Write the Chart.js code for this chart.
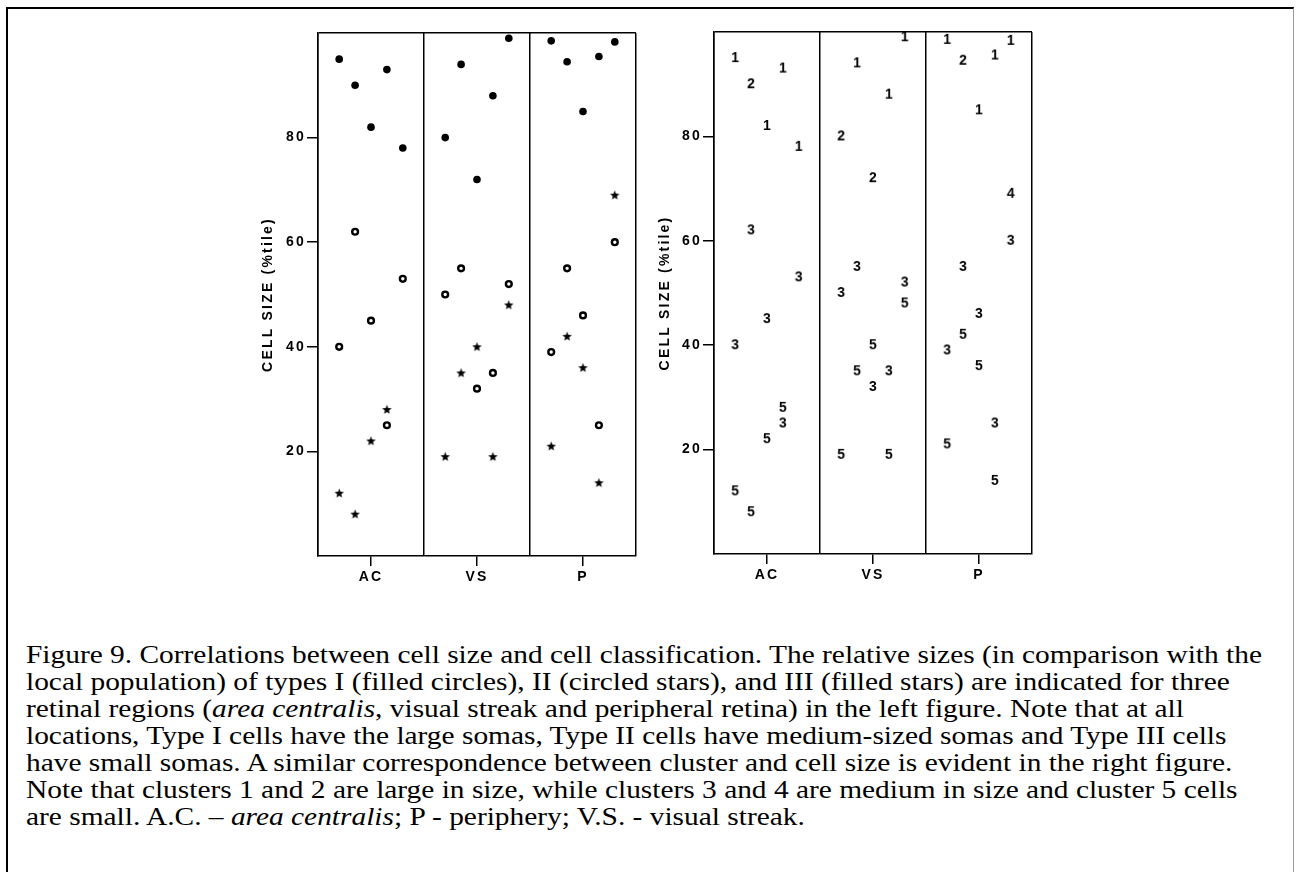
<!DOCTYPE html>
<html>
<head>
<meta charset="utf-8">
<script src="https://cdn.jsdelivr.net/npm/chart.js@4.4.1/dist/chart.umd.min.js"></script>
<style>
  html, body { margin: 0; padding: 0; background: #fff; }
  body { width: 1296px; height: 872px; position: relative; overflow: hidden; }
  #frame {
    position: absolute; left: 6px; top: 7px; width: 1285px; height: 900px;
    border-left: 2px solid #000; border-top: 2px solid #000; border-right: 1px solid #999;
  }
  canvas { position: absolute; top: 0; }
  #left { left: 240px; }
  #right { left: 640px; }
  #caption {
    position: absolute; left: 26px; top: 641px;
    font-family: "Liberation Serif", "Times New Roman", serif;
    font-size: 26px; line-height: 27px; white-space: nowrap; color: #000;
    transform-origin: 0 0;
  }
  #caption div { display: table; }
</style>
</head>
<body>
<div id="frame"></div>
<canvas id="left" width="420" height="600"></canvas>
<canvas id="right" width="420" height="600"></canvas>
<div id="caption">
<div>Figure 9. Correlations between cell size and cell classification. The relative sizes (in comparison with the</div>
<div>local population) of types I (filled circles), II (circled stars), and III (filled stars) are indicated for three</div>
<div>retinal regions (<i>area centralis</i>, visual streak and peripheral retina) in the left figure. Note that at all</div>
<div>locations, Type I cells have the large somas, Type II cells have medium-sized somas and Type III cells</div>
<div>have small somas. A similar correspondence between cluster and cell size is evident in the right figure.</div>
<div>Note that clusters 1 and 2 are large in size, while clusters 3 and 4 are medium in size and cluster 5 cells</div>
<div>are small. A.C. – <i>area centralis</i>; P - periphery; V.S. - visual streak.</div>
</div>
<script>
// regions sit at 0.5, 1.5, 2.5 on the x scale, each panel is one unit wide
const regions = ['AC', 'VS', 'P'];
const yTicks = [20, 40, 60, 80];

// type I cells (filled circles)
const typeIX = [0.2, 0.35, 0.65, 0.5, 0.8, 1.8, 1.35, 1.65, 1.2, 1.5, 2.2, 2.35, 2.65, 2.8, 2.5];
const typeIY = [95, 90, 93, 82, 78, 99, 94, 88, 80, 72, 98.5, 94.5, 95.5, 98.3, 85];
const typeICluster = [1, 2, 1, 1, 1, 1, 1, 1, 2, 2, 1, 2, 1, 1, 1];

// type II cells (circled)
const typeIIX = [0.35, 0.8, 0.5, 0.2, 0.65, 1.35, 1.2, 1.8, 1.5, 1.65, 2.8, 2.35, 2.5, 2.2, 2.65];
const typeIIY = [62, 53, 45, 40, 25, 55, 50, 52, 32, 35, 60, 55, 46, 39, 25];
const typeIICluster = [3, 3, 3, 3, 3, 3, 3, 3, 3, 3, 3, 3, 3, 3, 3];

// type III cells (filled stars)
const typeIIIX = [0.65, 0.5, 0.2, 0.35, 1.8, 1.5, 1.35, 1.2, 1.65, 2.8, 2.35, 2.5, 2.2, 2.65];
const typeIIIY = [28, 22, 12, 8, 48, 40, 35, 19, 19, 69, 42, 36, 21, 14];
const typeIIICluster = [5, 5, 5, 5, 5, 5, 5, 5, 5, 4, 5, 5, 5, 5];

const axisFont = { family: '"Liberation Sans", Arial, sans-serif', size: 14, weight: 'bold' };
const clear = 'rgba(0,0,0,0)';

function toPoints(xs, ys) {
    return xs.map((x, i) => ({ x: x, y: ys[i] }));
}

function starImage() {
    const c = document.createElement('canvas');
    c.width = 11; c.height = 11;
    const g = c.getContext('2d');
    g.beginPath();
    for (let i = 0; i < 10; i++) {
        const r = i % 2 ? 2.1 : 5;
        const a = -Math.PI / 2 + i * Math.PI / 5;
        g.lineTo(5.5 + r * Math.cos(a), 5.8 + r * Math.sin(a));
    }
    g.closePath();
    g.fillStyle = '#000';
    g.fill();
    return c;
}

function digitImage(d) {
    const c = document.createElement('canvas');
    c.width = 14; c.height = 16;
    const g = c.getContext('2d');
    g.font = 'bold 14px "Liberation Sans", Arial, sans-serif';
    g.textAlign = 'center';
    g.textBaseline = 'middle';
    g.fillStyle = '#000';
    g.fillText(String(d), 7, 8.5);
    return c;
}

const star = starImage();
const digits = {};
[1, 2, 3, 4, 5].forEach(d => { digits[d] = digitImage(d); });

// the old figure has letter-spaced lettering on the axes
const spacing = {
    id: 'spacing',
    beforeUpdate(chart) { chart.ctx.letterSpacing = '2.2px'; },
    beforeDraw(chart) { chart.ctx.letterSpacing = '2.2px'; }
};

function makeChart(id, datasets, box) {
    return new Chart(document.getElementById(id).getContext('2d'), {
        type: 'scatter',
        data: { datasets: datasets },
        plugins: [spacing],
        options: {
            responsive: false,
            animation: false,
            events: [],
            layout: { padding: { top: box.top, right: box.right, left: 0, bottom: 0 } },
            plugins: { legend: { display: false }, tooltip: { enabled: false } },
            scales: {
                x: {
                    type: 'linear', min: 0, max: 3,
                    afterBuildTicks: s => { s.ticks = [0, 0.5, 1, 1.5, 2, 2.5, 3].map(v => ({ value: v })); },
                    afterFit: s => { s.height = box.xHeight; },
                    border: { display: true, color: '#000', width: 1.5 },
                    grid: {
                        drawOnChartArea: true, tickLength: 10, lineWidth: 1.5,
                        color: c => (c.tick && c.tick.value % 1 === 0) ? '#000' : clear,
                        tickColor: c => (c.tick && c.tick.value % 1 !== 0) ? '#000' : clear
                    },
                    ticks: {
                        autoSkip: false, maxRotation: 0, minRotation: 0, padding: 3,
                        color: '#000', font: axisFont,
                        callback: v => (v % 1 !== 0) ? regions[Math.floor(v)] : ''
                    }
                },
                y: {
                    type: 'linear', min: 0, max: 100,
                    afterBuildTicks: s => { s.ticks = yTicks.concat([100]).map(v => ({ value: v })); },
                    afterFit: s => { s.width = box.yWidth; },
                    border: { display: true, color: '#000', width: 1.5 },
                    grid: {
                        drawOnChartArea: true, tickLength: 11, lineWidth: 1.5,
                        color: c => (c.tick && c.tick.value === 100) ? '#000' : clear,
                        tickColor: c => (c.tick && c.tick.value === 100) ? clear : '#000'
                    },
                    ticks: {
                        padding: 1, color: '#000', font: axisFont,
                        callback: v => v === 100 ? '' : String(v)
                    },
                    title: {
                        display: true, text: 'CELL SIZE (%tile)', color: '#000', font: axisFont,
                        padding: { top: box.titlePad, bottom: 0 }
                    }
                }
            }
        }
    });
}

window.onload = function () {
    makeChart('left', [
        {
            data: toPoints(typeIX, typeIY), pointStyle: 'circle', pointRadius: 3.8,
            backgroundColor: '#000', borderWidth: 0, clip: false
        },
        {
            data: toPoints(typeIIX, typeIIY), pointStyle: 'circle', pointRadius: 2.9,
            backgroundColor: '#fff', borderColor: '#000', borderWidth: 2.4, clip: false
        },
        {
            data: toPoints(typeIIIX, typeIIIY), pointStyle: star, pointRadius: 4, clip: false
        }
    ], { top: 33, right: 24, xHeight: 44, yWidth: 78, titlePad: 20 });

    const allX = typeIX.concat(typeIIX, typeIIIX);
    const allY = typeIY.concat(typeIIY, typeIIIY);
    const allCluster = typeICluster.concat(typeIICluster, typeIIICluster);

    makeChart('right', [
        {
            data: toPoints(allX, allY), pointStyle: allCluster.map(k => digits[k]),
            pointRadius: 5, clip: false
        }
    ], { top: 32, right: 28, xHeight: 46, yWidth: 74, titlePad: 17 });

    // the scanned caption runs a little wider than the font's natural width
    const caption = document.getElementById('caption');
    const first = caption.querySelector('div');
    caption.style.transform = 'scaleX(' + (1236 / first.getBoundingClientRect().width) + ')';
};
</script>
</body>
</html>
